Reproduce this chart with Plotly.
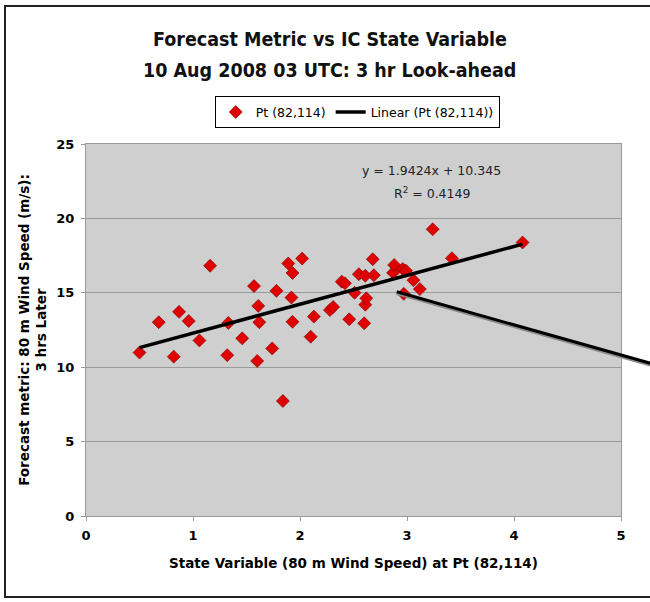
import plotly.graph_objects as go

# Observed pairs at grid point (82,114)
state_speed = [0.50, 0.68, 0.82, 0.87, 0.96, 1.06, 1.16, 1.33, 1.32, 1.46,
               1.57, 1.60, 1.61, 1.62, 1.74, 1.78, 1.84, 1.89, 1.93, 1.92,
               1.93, 2.02, 2.10, 2.13, 2.28, 2.31, 2.39, 2.42, 2.46, 2.51,
               2.55, 2.60, 2.61, 2.61, 2.62, 2.68, 2.69, 2.87, 2.88, 2.96,
               2.99, 2.97, 3.06, 3.12, 3.24, 3.42, 4.08]
forecast_speed = [10.98, 13.02, 10.71, 13.72, 13.10, 11.80, 16.82, 12.97, 10.81, 11.94,
                  15.45, 10.42, 14.12, 13.02, 11.26, 15.13, 7.73, 16.97, 16.33, 14.68,
                  13.05, 17.30, 12.05, 13.40, 13.84, 14.05, 15.75, 15.64, 13.22, 15.00,
                  16.25, 12.95, 16.15, 14.20, 14.63, 17.26, 16.18, 16.34, 16.87, 16.60,
                  16.49, 14.93, 15.85, 15.25, 19.27, 17.32, 18.38]

# Linear fit as reported
slope = 1.9424
intercept = 10.345
r_squared = 0.4149

title_lines = ["Forecast Metric vs IC State Variable",
               "10 Aug 2008 03 UTC: 3 hr Look-ahead"]

x_ticks = [0, 1, 2, 3, 4, 5]
y_ticks = [0, 5, 10, 15, 20, 25]
x_range = [0, 5]
y_range = [0, 25]

# Free-hand pointer line drawn across the chart (data units)
pointer_start = (2.904, 15.07)
pointer_end = (5.75, 9.3)

fit_x = [min(state_speed), max(state_speed)]
fit_y = [slope * v + intercept for v in fit_x]

fig = go.Figure()
fig.add_trace(go.Scatter(
    x=state_speed, y=forecast_speed, mode="markers", name="Pt (82,114)",
    marker=dict(symbol="diamond", size=10, color="#e00000",
                line=dict(width=0.6, color="#7a0000")),
))
fig.add_trace(go.Scatter(
    x=fit_x, y=fit_y, mode="lines", name="Linear (Pt (82,114))",
    line=dict(color="black", width=3.5),
))


def to_paper(xv, yv):
    px = (xv - x_range[0]) / (x_range[1] - x_range[0])
    py = (yv - y_range[0]) / (y_range[1] - y_range[0])
    return px, py


p0 = to_paper(*pointer_start)
p1 = to_paper(*pointer_end)

shapes = [
    # pointer line (soft shadow then stroke)
    dict(type="line", xref="paper", yref="paper", x0=p0[0], y0=p0[1] - 0.004,
         x1=p1[0], y1=p1[1] - 0.004, line=dict(color="#8a8a8a", width=3.5), layer="above"),
    dict(type="line", xref="paper", yref="paper", x0=p0[0], y0=p0[1],
         x1=p1[0], y1=p1[1], line=dict(color="black", width=3), layer="above"),
    # outer chart frame
    dict(type="rect", xref="paper", yref="paper", x0=-0.1514, y0=-0.2177,
         x1=1.08, y1=1.371, line=dict(color="#222", width=2), layer="below"),
]

title_font = dict(family="DejaVu Sans Condensed, Liberation Sans", size=19.5,
                  color="#111", weight="bold")
annotations = [
    dict(x=0.456, y=1.2796, xref="paper", yref="paper", showarrow=False,
         xanchor="center", yanchor="middle", text=title_lines[0], font=title_font),
    dict(x=0.456, y=1.1989, xref="paper", yref="paper", showarrow=False,
         xanchor="center", yanchor="middle", text=title_lines[1], font=title_font),
    dict(x=3.23, y=23.25, xref="x", yref="y", showarrow=False,
         text=f"y = {slope}x + {intercept}",
         font=dict(family="DejaVu Sans", size=12.5, color="#222")),
    dict(x=3.23, y=21.7, xref="x", yref="y", showarrow=False,
         text=f"R<sup>2</sup> = {r_squared}",
         font=dict(family="DejaVu Sans", size=12.5, color="#222")),
]

fig.update_layout(
    width=650, height=602,
    margin=dict(l=86, r=29, t=144, b=86),
    paper_bgcolor="white",
    plot_bgcolor="#cfcfcf",
    legend=dict(
        orientation="h", x=0.507, xanchor="center", y=1.128, yanchor="top",
        bordercolor="black", borderwidth=1, bgcolor="white",
        font=dict(family="DejaVu Sans", size=12.5, color="black"),
        itemwidth=30, tracegroupgap=0,
    ),
    xaxis=dict(
        range=x_range, tickvals=x_ticks, showgrid=False, zeroline=False,
        showline=True, linecolor="#9a9a9a", linewidth=1, mirror=True,
        ticks="outside", ticklen=4, tickcolor="#9a9a9a", ticklabelstandoff=3,
        tickfont=dict(family="DejaVu Sans", size=13, color="black", weight="bold"),
        title=dict(text="<b>State Variable (80 m Wind Speed) at Pt (82,114)</b>",
                   font=dict(family="DejaVu Sans", size=13.5, color="black"), standoff=16),
    ),
    yaxis=dict(
        range=y_range, tickvals=y_ticks, showgrid=True, gridcolor="#9a9a9a", gridwidth=1,
        zeroline=False, showline=True, linecolor="#9a9a9a", linewidth=1, mirror=True,
        ticks="outside", ticklen=4, tickcolor="#9a9a9a", ticklabelstandoff=4,
        tickfont=dict(family="DejaVu Sans", size=13, color="black", weight="bold"),
        title=dict(text="<b>Forecast metric: 80 m Wind Speed (m/s):<br>3 hrs Later</b>",
                   font=dict(family="DejaVu Sans", size=13.5, color="black"), standoff=6),
    ),
    shapes=shapes,
    annotations=annotations,
)

fig.write_html("out.html")
